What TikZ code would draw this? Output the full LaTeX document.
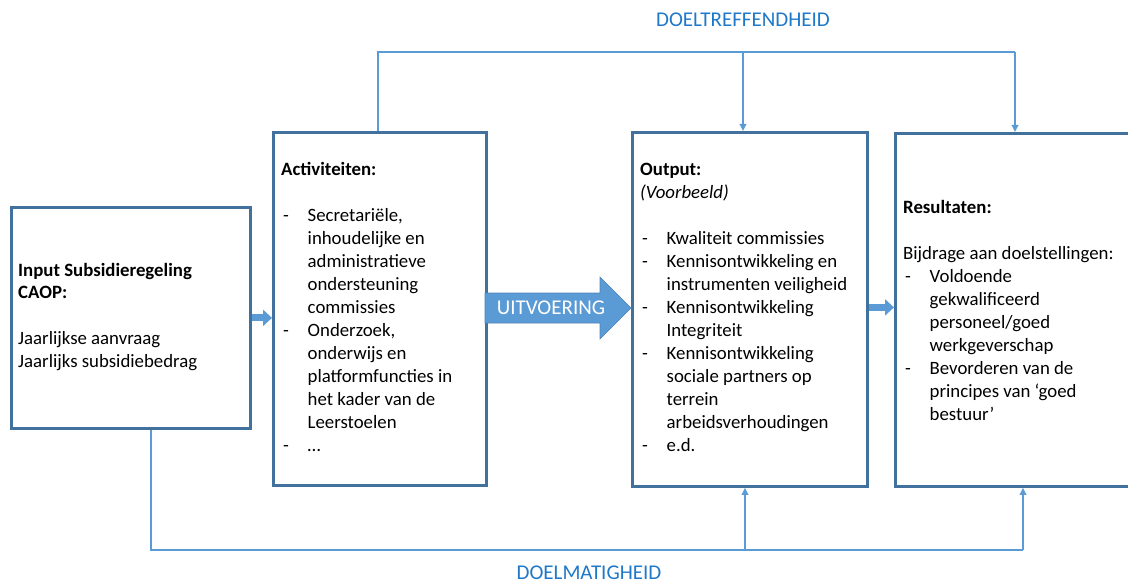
\documentclass[tikz,border=0pt]{standalone}
\usepackage{fontspec}
\setmainfont{Carlito}
\usetikzlibrary{arrows.meta}
\definecolor{boxline}{HTML}{41719C}
\definecolor{acc}{HTML}{5B9BD5}
\definecolor{labblue}{HTML}{1F78C8}
\newcommand{\dashit}{\makebox[26.5pt][l]{\hspace{2pt}-}}
\newcommand{\contit}{\hspace*{26.5pt}}
\tikzset{
  box/.style={draw=boxline, line width=2.8pt, fill=white, anchor=north west, inner sep=0pt},
  conn/.style={draw=acc, line width=1.8pt},
  connarrow/.style={conn, -{Triangle[length=7pt,width=6.5pt]}},
  blockarrow/.style={draw=acc, line width=7pt, -{Triangle[length=9pt,width=16pt]}},
  txt/.style={anchor=base west, inner sep=0pt, font=\fontsize{18.8}{23}\selectfont},
  lab/.style={text=labblue, inner sep=0pt, font=\fontsize{21}{25}\selectfont},
}
\begin{document}
\begin{tikzpicture}[x=1pt,y=-1pt]
\useasboundingbox (0,0) rectangle (1128,583);
\clip (0,0) rectangle (1128,583);

% boxes
\node[box, minimum width=239pt, minimum height=221pt] (inp) at (10,206) {};
\node[box, minimum width=213pt, minimum height=353pt] (act) at (272,131) {};
\node[box, minimum width=235pt, minimum height=354pt] (out) at (631,131) {};
\node[box, minimum width=250pt, minimum height=353pt] (res) at (894,132) {};

% texts
\node[txt] (tinp) at (18,276) {\parbox[t]{230pt}{%
\textbf{Input Subsidieregeling}\\
\textbf{CAOP:}\\
\mbox{}\\
Jaarlijkse aanvraag\\
Jaarlijks subsidiebedrag}};

\node[txt] (tact) at (281,176) {\parbox[t]{200pt}{%
\textbf{Activiteiten:}\\
\mbox{}\\
\dashit Secretariële,\\
\contit inhoudelijke en\\
\contit administratieve\\
\contit ondersteuning\\
\contit commissies\\
\dashit Onderzoek,\\
\contit onderwijs en\\
\contit platformfuncties in\\
\contit het kader van de\\
\contit Leerstoelen\\
\dashit …}};

\node[txt] (tout) at (640,176) {\parbox[t]{230pt}{%
\textbf{Output:}\\
\textit{(Voorbeeld)}\\
\mbox{}\\
\dashit Kwaliteit commissies\\
\dashit Kennisontwikkeling en\\
\contit instrumenten veiligheid\\
\dashit Kennisontwikkeling\\
\contit Integriteit\\
\dashit Kennisontwikkeling\\
\contit sociale partners op\\
\contit terrein\\
\contit arbeidsverhoudingen\\
\dashit e.d.}};

\node[txt] (tres) at (903,214) {\parbox[t]{240pt}{%
\textbf{Resultaten:}\\
\mbox{}\\
Bijdrage aan doelstellingen:\\
\dashit Voldoende\\
\contit gekwalificeerd\\
\contit personeel/goed\\
\contit werkgeverschap\\
\dashit Bevorderen van de\\
\contit principes van ‘goed\\
\contit bestuur’}};

% block arrows
\draw[blockarrow] (inp.east) -- (inp.east -| act.west);
\draw[blockarrow] ([yshift=2pt]out.east) -- ([yshift=2pt]out.east -| res.west);
\fill[acc, draw=acc!85!black, line width=0.6pt] (485,293) -- (600,293) -- (600,277) -- (631,308) -- (600,339) -- (600,323) -- (485,323) -- cycle;
\node[text=white, inner sep=0pt, font=\fontsize{21}{25}\selectfont] (uit) at (551,308) {UITVOERING};

% top connector
\coordinate (tl) at (378,52);
\coordinate (tm) at (743,52);
\coordinate (tr) at (1015,52);
\draw[conn] (act.north -| tl) -- (tl) -- (tr);
\draw[connarrow] (tr) -- (res.north -| tr);
\draw[connarrow] (tm) -- (out.north -| tm);
\node[lab] (doeltr) at (743,20) {DOELTREFFENDHEID};

% bottom connector
\coordinate (bl) at (151,550);
\coordinate (bm) at (745,550);
\coordinate (br) at (1023,550);
\draw[conn] (inp.south -| bl) -- (bl) -- (br);
\draw[connarrow] (bm) -- (out.south -| bm);
\draw[connarrow] (br) -- (res.south -| br);
\node[lab] (doelm) at (589,573) {DOELMATIGHEID};
\end{tikzpicture}
\end{document}
